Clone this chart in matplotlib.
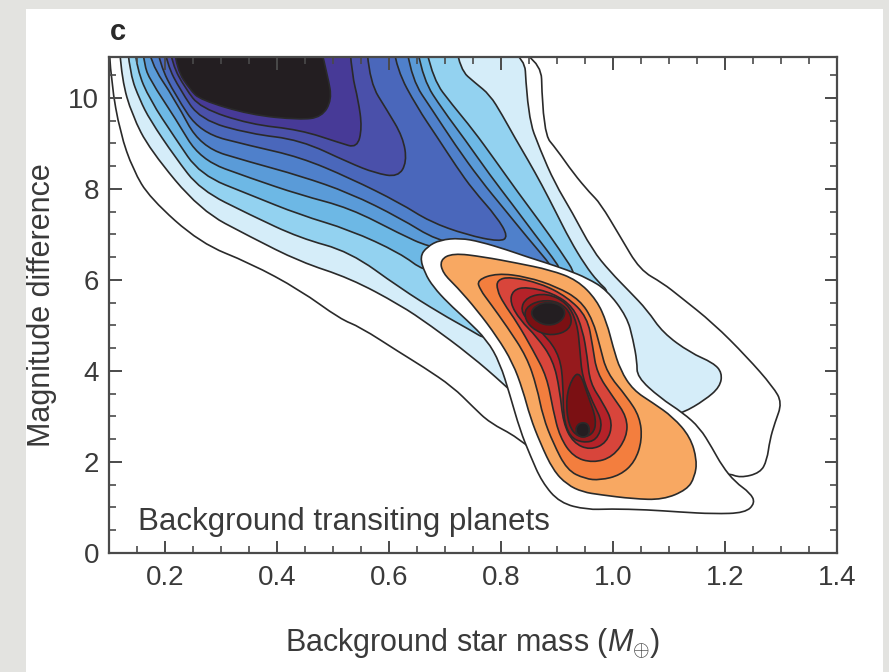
import matplotlib
matplotlib.use("Agg")
import matplotlib.pyplot as plt
from matplotlib.patches import PathPatch, Rectangle
from matplotlib.path import Path
from matplotlib.ticker import MultipleLocator, FixedLocator

plt.rcParams['font.family'] = ['Liberation Sans', 'DejaVu Sans']
plt.rcParams['mathtext.fontset'] = 'custom'
plt.rcParams['mathtext.it'] = 'Liberation Sans:italic'
plt.rcParams['mathtext.rm'] = 'Liberation Sans'

# ---------------- data (contour outlines, data coordinates: mass, magnitude) -------------
X_TICKS = [0.2, 0.4, 0.6, 0.8, 1.0, 1.2, 1.4]
Y_TICKS = [0, 2, 4, 6, 8, 10]
X_LABEL = r'Background star mass ($M_{\oplus}$)'
Y_LABEL = 'Magnitude difference'
INNER_TEXT = 'Background transiting planets'
PANEL_LETTER = 'c'

# Blue family (background eclipsing binaries density), outermost to innermost
BLUE_A = [(0.098, 11.6), (0.104, 10.33), (0.120, 9.23), (0.143, 8.42), (0.173, 7.80), (0.263, 6.81),
          (0.352, 6.37), (0.441, 5.78), (0.513, 5.14), (0.548, 4.97), (0.620, 4.40), (0.661, 4.09),
          (0.714, 3.65), (0.750, 3.21), (0.780, 2.86), (0.829, 2.55), (0.888, 1.93), (1.048, 1.49),
          (1.191, 1.60), (1.205, 1.76), (1.227, 1.65), (1.263, 1.76), (1.275, 2.04), (1.280, 2.48),
          (1.289, 2.86), (1.302, 3.30), (1.286, 3.65), (1.239, 4.31), (1.179, 5.05), (1.120, 5.63),
          (1.089, 5.93), (1.048, 6.22), (1.013, 6.95), (0.977, 7.69), (0.959, 7.91), (0.929, 8.35),
          (0.900, 8.86), (0.875, 9.23), (0.870, 11.6)]
BLUE_B = [(0.116, 11.6), (0.123, 10.40), (0.141, 9.63), (0.173, 8.86), (0.263, 7.53), (0.352, 6.95),
          (0.441, 6.40), (0.530, 6.04), (0.620, 5.45), (0.673, 5.01), (0.745, 4.35), (0.807, 3.69),
          (0.834, 3.36), (0.977, 2.81), (1.084, 2.92), (1.125, 3.08), (1.164, 3.36), (1.191, 3.65),
          (1.195, 3.96), (1.179, 4.18), (1.138, 4.40), (1.089, 4.84), (1.061, 5.34), (1.030, 5.74),
          (0.995, 6.18), (0.963, 6.66), (0.927, 7.49), (0.896, 8.13), (0.870, 8.86), (0.848, 9.58),
          (0.839, 11.6)]
BLUE_C = [(0.129, 11.6), (0.138, 10.51), (0.155, 9.96), (0.173, 9.52), (0.218, 8.70), (0.263, 7.98),
          (0.352, 7.43), (0.441, 6.92), (0.530, 6.62), (0.620, 5.82), (0.691, 5.27), (0.745, 4.90),
          (0.775, 4.68), (0.834, 4.79), (0.923, 5.34), (0.977, 5.60), (0.993, 5.74), (0.973, 5.96),
          (0.950, 6.33), (0.923, 6.88), (0.898, 7.49), (0.873, 8.09), (0.848, 8.64), (0.825, 9.12),
          (0.802, 9.63), (0.780, 10.07), (0.754, 10.33), (0.727, 10.62), (0.713, 11.6)]
BLUE_D = [(0.141, 11.6), (0.150, 10.62), (0.173, 9.96), (0.218, 9.12), (0.263, 8.31), (0.352, 7.87),
          (0.441, 7.43), (0.530, 7.10), (0.620, 6.59), (0.664, 6.18), (0.700, 6.26), (0.798, 6.26),
          (0.905, 6.00), (0.938, 6.04), (0.905, 6.66), (0.870, 7.27), (0.830, 7.93), (0.789, 8.64),
          (0.750, 9.30), (0.713, 9.85), (0.679, 10.40), (0.657, 11.6)]
BLUE_E = [(0.154, 11.6), (0.163, 10.73), (0.173, 10.40), (0.218, 9.56), (0.263, 8.64), (0.352, 8.24),
          (0.441, 7.87), (0.530, 7.58), (0.620, 7.01), (0.670, 6.73), (0.727, 6.62), (0.816, 6.40),
          (0.909, 6.18), (0.893, 6.48), (0.861, 6.99), (0.821, 7.65), (0.780, 8.31), (0.736, 9.08),
          (0.696, 9.74), (0.661, 10.40), (0.643, 11.6)]
BLUE_F = [(0.166, 11.6), (0.173, 10.79), (0.218, 9.96), (0.263, 8.92), (0.352, 8.59), (0.441, 8.29),
          (0.530, 7.91), (0.620, 7.36), (0.686, 6.86), (0.750, 6.75), (0.850, 6.50), (0.891, 6.26),
          (0.884, 6.40), (0.848, 6.92), (0.807, 7.54), (0.763, 8.20), (0.718, 8.97), (0.677, 9.74),
          (0.641, 10.40), (0.625, 11.6)]
BLUE_G = [(0.179, 11.6), (0.191, 10.73), (0.218, 10.07), (0.263, 9.23), (0.352, 8.95), (0.441, 8.70),
          (0.530, 8.24), (0.620, 7.69), (0.673, 7.28), (0.739, 6.99), (0.798, 6.84), (0.813, 6.95),
          (0.793, 7.38), (0.750, 7.98), (0.721, 8.48), (0.686, 9.14), (0.650, 9.80), (0.614, 10.62),
          (0.602, 11.6)]
BLUE_H = [(0.191, 11.6), (0.204, 10.73), (0.227, 10.18), (0.263, 9.52), (0.352, 9.21), (0.441, 9.08),
          (0.530, 8.57), (0.575, 8.35), (0.616, 8.26), (0.632, 8.59), (0.625, 9.14), (0.596, 9.74),
          (0.566, 10.33), (0.557, 11.6)]
BLUE_I = [(0.202, 11.6), (0.213, 10.73), (0.236, 10.22), (0.263, 9.78), (0.352, 9.42), (0.441, 9.30),
          (0.513, 9.01), (0.543, 8.90), (0.552, 9.34), (0.545, 9.96), (0.534, 10.51), (0.527, 11.6)]
BLUE_J = [(0.211, 11.6), (0.221, 10.62), (0.245, 10.18), (0.263, 9.96), (0.352, 9.63), (0.441, 9.52),
          (0.480, 9.58), (0.498, 9.96), (0.491, 10.46), (0.468, 11.6)]
BLUE_LEVELS = [BLUE_A, BLUE_B, BLUE_C, BLUE_D, BLUE_E, BLUE_F, BLUE_G, BLUE_H, BLUE_I, BLUE_J]
BLUE_COLORS = ['#ffffff', '#d5edf9', '#93d2f0', '#6db8e5', '#5a9bd8', '#4f80cb',
               '#4a67bb', '#4a50aa', '#473a97', '#231e21']

# Red family (background transiting planets density), outermost to innermost
RED_W = [(0.655, 6.51), (0.668, 6.73), (0.691, 6.88), (0.727, 6.92), (0.763, 6.84), (0.811, 6.66),
         (0.846, 6.51), (0.882, 6.37), (0.918, 6.22), (0.954, 6.04), (0.989, 5.78), (1.025, 5.19),
         (1.036, 4.68), (1.043, 4.20), (1.043, 3.87), (1.084, 3.41), (1.125, 3.08), (1.155, 2.75),
         (1.177, 2.31), (1.195, 1.91), (1.218, 1.56), (1.245, 1.32), (1.254, 1.10), (1.236, 0.88),
         (1.179, 0.86), (1.120, 0.90), (1.061, 0.95), (0.995, 0.97), (0.954, 0.95), (0.905, 1.10),
         (0.873, 1.56), (0.852, 2.15), (0.834, 2.70), (0.816, 3.47), (0.798, 4.18), (0.775, 4.68),
         (0.739, 5.12), (0.705, 5.50), (0.679, 5.85), (0.664, 6.15)]
RED_1 = [(0.691, 6.44), (0.714, 6.59), (0.768, 6.51), (0.829, 6.37), (0.888, 6.22), (0.936, 6.00),
         (0.971, 5.56), (0.989, 5.06), (1.000, 4.53), (1.013, 4.02), (1.036, 3.58), (1.071, 3.30),
         (1.107, 2.99), (1.138, 2.55), (1.150, 2.04), (1.146, 1.67), (1.132, 1.39), (1.089, 1.17),
         (1.036, 1.19), (0.977, 1.28), (0.946, 1.34), (0.918, 1.50), (0.893, 1.82), (0.870, 2.42),
         (0.852, 2.99), (0.839, 3.58), (0.821, 4.18), (0.793, 4.75), (0.757, 5.34), (0.721, 5.85),
         (0.696, 6.15)]
RED_2 = [(0.757, 6.00), (0.793, 6.15), (0.846, 6.07), (0.900, 5.85), (0.941, 5.56), (0.964, 5.12),
         (0.977, 4.53), (0.989, 3.96), (1.025, 3.43), (1.048, 2.99), (1.052, 2.48), (1.039, 2.00),
         (1.013, 1.71), (0.977, 1.60), (0.950, 1.63), (0.918, 1.82), (0.893, 2.42), (0.875, 2.99),
         (0.864, 3.65), (0.846, 4.31), (0.811, 4.97), (0.780, 5.50), (0.763, 5.78)]
RED_3 = [(0.793, 6.00), (0.816, 6.07), (0.870, 5.93), (0.918, 5.63), (0.954, 5.19), (0.964, 4.53),
         (0.971, 3.96), (1.000, 3.43), (1.025, 2.99), (1.025, 2.55), (1.000, 2.11), (0.964, 1.98),
         (0.929, 2.11), (0.905, 2.55), (0.893, 3.14), (0.882, 3.87), (0.857, 4.46), (0.829, 5.06),
         (0.804, 5.50), (0.793, 5.78)]
RED_4 = [(0.821, 5.78), (0.846, 5.85), (0.893, 5.71), (0.929, 5.41), (0.946, 4.90), (0.954, 4.31),
         (0.959, 3.74), (0.982, 3.30), (1.000, 2.86), (0.989, 2.42), (0.959, 2.26), (0.929, 2.42),
         (0.911, 2.86), (0.905, 3.58), (0.893, 4.24), (0.864, 4.75), (0.834, 5.12), (0.816, 5.50)]
RED_5 = [(0.846, 5.63), (0.882, 5.71), (0.918, 5.50), (0.936, 5.06), (0.941, 4.46), (0.945, 3.87),
         (0.964, 3.30), (0.982, 2.86), (0.971, 2.48), (0.946, 2.42), (0.923, 2.55), (0.911, 2.99),
         (0.911, 3.74), (0.905, 4.31), (0.882, 4.75), (0.852, 5.06), (0.834, 5.34)]
RED_6A = [(0.843, 5.39), (0.870, 5.56), (0.905, 5.52), (0.927, 5.23), (0.923, 4.90), (0.891, 4.77),
          (0.861, 4.88), (0.843, 5.12)]
RED_6B = [(0.927, 3.85), (0.941, 3.98), (0.955, 3.47), (0.971, 2.92), (0.964, 2.59), (0.938, 2.53),
          (0.920, 2.81), (0.916, 3.41)]
RED_7A = [(0.852, 5.28), (0.863, 5.45), (0.884, 5.52), (0.907, 5.45), (0.916, 5.28), (0.907, 5.08),
          (0.886, 4.99), (0.863, 5.08)]
RED_7B = [(0.932, 2.70), (0.939, 2.86), (0.954, 2.86), (0.959, 2.70), (0.954, 2.55), (0.939, 2.55)]
RED_LEVELS = [RED_W, RED_1, RED_2, RED_3, RED_4, RED_5, RED_6A, RED_6B, RED_7A, RED_7B]
RED_COLORS = ['#ffffff', '#f8a862', '#f37e3e', '#d8453b', '#b52229', '#961a1d',
              '#7b1013', '#7b1013', '#231e21', '#231e21']

# ---------------- figure ----------------
TEXT_COLOR = '#3a3a3a'
AXIS_COLOR = '#4a4a4a'
LINE_COLOR = '#2a2a2a'


def smooth_outline(pts):
    """Closed outline drawn as quadratic Bezier curves with the read points as control points."""
    n = len(pts)
    mids = [((pts[i][0] + pts[(i + 1) % n][0]) / 2, (pts[i][1] + pts[(i + 1) % n][1]) / 2)
            for i in range(n)]
    verts = [mids[-1]]
    codes = [Path.MOVETO]
    for i in range(n):
        verts += [pts[i], mids[i]]
        codes += [Path.CURVE3, Path.CURVE3]
    verts.append(mids[-1])
    codes.append(Path.CLOSEPOLY)
    return Path(verts, codes)


fig = plt.figure(figsize=(8.89, 6.72), dpi=100, facecolor='#e3e3e0')
fig.patches.append(Rectangle((26 / 889, 0), (883 - 26) / 889, (672 - 9) / 672,
                             transform=fig.transFigure, facecolor='white',
                             edgecolor='none', zorder=-5))

ax = fig.add_axes([0.1226, 0.1771, 0.8189, 0.7381])
ax.set_facecolor('white')

for poly, col in zip(BLUE_LEVELS, BLUE_COLORS):
    ax.add_patch(PathPatch(smooth_outline(poly), facecolor=col, edgecolor=LINE_COLOR,
                           lw=1.2, joinstyle='round', zorder=1))
for poly, col in zip(RED_LEVELS, RED_COLORS):
    ax.add_patch(PathPatch(smooth_outline(poly), facecolor=col, edgecolor=LINE_COLOR,
                           lw=1.2, joinstyle='round', zorder=1.2))

ax.set_xlim(0.1, 1.4)
ax.set_ylim(0, 10.9)

ax.xaxis.set_major_locator(FixedLocator(X_TICKS))
ax.yaxis.set_major_locator(FixedLocator(Y_TICKS))
ax.xaxis.set_minor_locator(MultipleLocator(0.05))
ax.yaxis.set_minor_locator(MultipleLocator(0.5))
ax.set_xticklabels([f'{v:.1f}' for v in X_TICKS])
ax.set_yticklabels([str(v) for v in Y_TICKS])

ax.tick_params(which='both', direction='in', top=True, right=True, color=AXIS_COLOR)
ax.tick_params(which='major', length=9, width=1.4, labelsize=20, labelcolor=TEXT_COLOR)
ax.tick_params(which='minor', length=5, width=1.2)
ax.tick_params(axis='x', which='major', pad=9)
ax.tick_params(axis='y', which='major', pad=7)
for sp in ax.spines.values():
    sp.set_color(AXIS_COLOR)
    sp.set_linewidth(1.6)

ax.set_xlabel(X_LABEL, fontsize=22, color=TEXT_COLOR)
ax.set_ylabel(Y_LABEL, fontsize=22, color=TEXT_COLOR)
ax.xaxis.set_label_coords(0.5, -0.148)
ax.yaxis.set_label_coords(-0.072, 0.5)

ax.text(0.152, 0.5, INNER_TEXT, fontsize=22.5, color=TEXT_COLOR,
        ha='left', va='baseline', zorder=3)
fig.text(110 / 889, 1 - 40 / 672, PANEL_LETTER, fontsize=21, fontweight='bold',
         color='#2a2a2a', ha='left', va='baseline')

fig.savefig('out.png', dpi=100, facecolor=fig.get_facecolor())
